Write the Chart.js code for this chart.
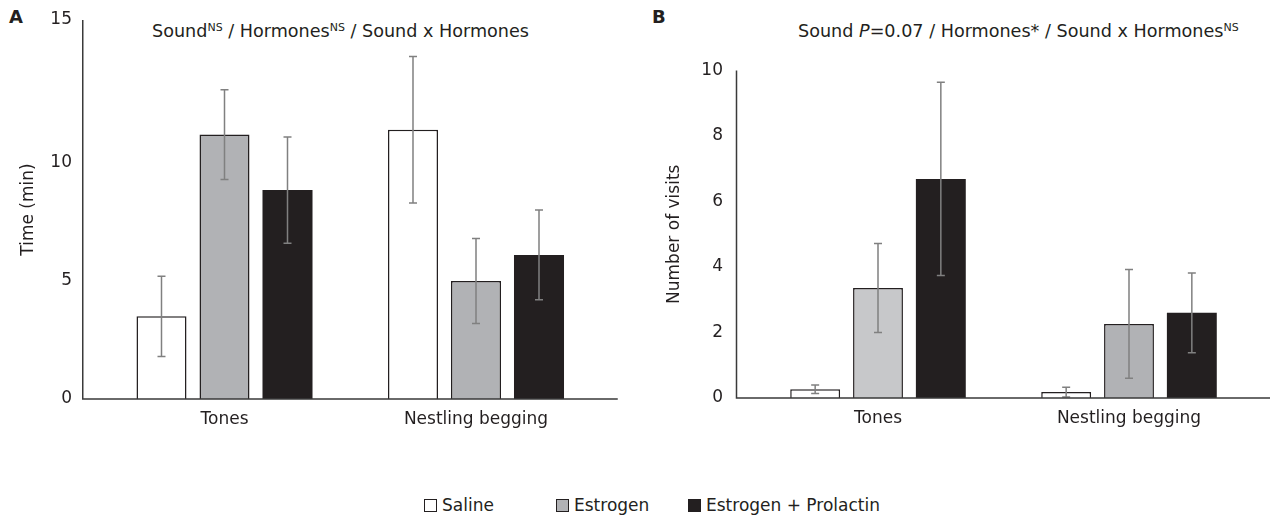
<!DOCTYPE html>
<html>
<head>
<meta charset="utf-8">
<title>Sound x Hormones</title>
<script src="https://cdn.jsdelivr.net/npm/chart.js@4.4.1/dist/chart.umd.min.js"></script>
<style>
  body { margin: 0; background: #fff; font-family: "DejaVu Sans", sans-serif; color: #231f20; }
  #wrap { position: relative; width: 1270px; height: 518px; overflow: hidden; }
  canvas { position: absolute; top: 0; }
  .tag { position: absolute; top: 6px; font-size: 18px; font-weight: bold; }
  .title { position: absolute; top: 21px; font-size: 17.6px; line-height: 20px; white-space: nowrap; }
  .title sup { font-size: 11px; line-height: 0; vertical-align: 6px; }
  .legend { position: absolute; left: 424px; top: 495px; display: flex; font-size: 17px; line-height: 20px; }
  .legend span.item { display: flex; align-items: center; min-width: 132px; }
  .legend i { display: inline-block; width: 11px; height: 11px; border: 1.5px solid #231f20; margin-right: 5px; }
</style>
</head>
<body>
<div id="wrap">
  <div class="tag" style="left:9px">A</div>
  <div class="tag" style="left:652px">B</div>
  <div class="title" style="left:152px">Sound<sup>NS</sup> / Hormones<sup>NS</sup> / Sound x Hormones</div>
  <div class="title" style="left:798px">Sound <i>P</i>=0.07 / Hormones* / Sound x Hormones<sup>NS</sup></div>
  <canvas id="chartA" width="640" height="450" style="left:0"></canvas>
  <canvas id="chartB" width="630" height="450" style="left:640px"></canvas>
  <div class="legend" id="legend"></div>
</div>
<script>
const categories = ['Tones', 'Nestling begging']
const groups = ['Saline', 'Estrogen', 'Estrogen + Prolactin']

// A - time spent (min), mean and error
const timeSaline = [3.5, 11.4]
const timeEstrogen = [11.2, 5.0]
const timeEstProl = [8.85, 6.1]
const timeSalineErr = [1.7, 3.1]
const timeEstrogenErr = [1.9, 1.8]
const timeEstProlErr = [2.25, 1.9]
const timeTicks = ['0', '5', '10', '15']

// B - number of visits
const visitsSaline = [0.27, 0.18]
const visitsEstrogen = [3.36, 2.26]
const visitsEstProl = [6.69, 2.6]
const visitsSalineErr = [0.13, 0.15]
const visitsEstrogenErr = [1.36, 1.66]
const visitsEstProlErr = [2.95, 1.22]
const visitsTicks = [0, 2, 4, 6, 8, 10]

const ink = '#231f20'
const grey = '#b1b2b5'
const lightGrey = '#c7c8ca'
const font = { family: 'DejaVu Sans', size: 17 }

// error bars from the dataset's err array
const errorBars = {
  id: 'errorBars',
  afterDatasetsDraw(chart) {
    const ctx = chart.ctx
    const y = chart.scales.y
    ctx.save()
    ctx.strokeStyle = '#808080'
    ctx.lineWidth = 1.5
    chart.data.datasets.forEach((ds, i) => {
      chart.getDatasetMeta(i).data.forEach((bar, j) => {
        const v = ds.data[j], e = ds.err[j]
        const top = y.getPixelForValue(v + e)
        const bot = y.getPixelForValue(Math.max(v - e, 0))
        ctx.beginPath()
        ctx.moveTo(bar.x, top); ctx.lineTo(bar.x, bot)
        ctx.moveTo(bar.x - 4, top); ctx.lineTo(bar.x + 4, top)
        ctx.moveTo(bar.x - 4, bot); ctx.lineTo(bar.x + 4, bot)
        ctx.stroke()
      })
    })
    ctx.restore()
  }
}

// axis lines sit a little outside the category area, like the original
const axisLines = {
  id: 'axisLines',
  afterDatasetsDraw(chart) {
    const { ctx, chartArea: a } = chart
    const x0 = a.left - 16
    ctx.save()
    ctx.strokeStyle = '#3a3a3a'
    ctx.lineWidth = 1.5
    ctx.beginPath()
    ctx.moveTo(x0, a.top); ctx.lineTo(x0, a.bottom)
    ctx.lineTo(a.right + 16, a.bottom)
    ctx.stroke()
    ctx.restore()
  }
}

function makeDatasets(vals, errs, estColors) {
  return [
    { label: groups[0], data: vals[0], err: errs[0], backgroundColor: '#fff', borderColor: ink, borderWidth: 1.5 },
    { label: groups[1], data: vals[1], err: errs[1], backgroundColor: estColors, borderColor: ink, borderWidth: 1.5 },
    { label: groups[2], data: vals[2], err: errs[2], backgroundColor: ink, borderColor: ink, borderWidth: 0 }
  ]
}

function xScale(height) {
  return {
    grid: { display: false, drawTicks: false },
    border: { display: false },
    ticks: { padding: 10, font, color: ink, maxRotation: 0, autoSkip: false },
    afterFit: s => { s.height = height }
  }
}

// fixed width for the y axis, and no extra top padding from the tick labels
function fitY(width) {
  return s => { s.width = width; s.paddingTop = 0 }
}

new Chart(document.getElementById('chartA'), {
  type: 'bar',
  data: {
    labels: categories,
    datasets: makeDatasets([timeSaline, timeEstrogen, timeEstProl],
      [timeSalineErr, timeEstrogenErr, timeEstProlErr], grey)
  },
  options: {
    responsive: false,
    animation: false,
    categoryPercentage: 0.7515,
    barPercentage: 0.794,
    layout: { padding: { left: 0, right: 38.25, top: 20, bottom: 0 } },
    plugins: { legend: { display: false }, tooltip: { enabled: false } },
    scales: {
      x: xScale(51),
      y: {
        min: 0,
        max: 16.05,
        // the printed axis puts its "15" at the top of the line
        afterBuildTicks: s => { s.ticks = [0, 5, 10, s.max].map(value => ({ value })) },
        ticks: { padding: 26.75, font, color: ink, callback: (v, i) => timeTicks[i] },
        grid: { display: false, drawTicks: false },
        border: { display: false },
        title: { display: true, text: 'Time (min)', font, color: ink, padding: { top: 18.8, bottom: 0 } },
        afterFit: fitY(98.75)
      }
    }
  },
  plugins: [errorBars, axisLines]
})

new Chart(document.getElementById('chartB'), {
  type: 'bar',
  data: {
    labels: categories,
    datasets: makeDatasets([visitsSaline, visitsEstrogen, visitsEstProl],
      [visitsSalineErr, visitsEstrogenErr, visitsEstProlErr], [lightGrey, grey])
  },
  options: {
    responsive: false,
    animation: false,
    categoryPercentage: 0.751,
    barPercentage: 0.794,
    layout: { padding: { left: 0, right: 15.5, top: 70.5, bottom: 0 } },
    plugins: { legend: { display: false }, tooltip: { enabled: false } },
    scales: {
      x: xScale(52),
      y: {
        min: visitsTicks[0],
        max: visitsTicks[visitsTicks.length - 1],
        afterBuildTicks: s => { s.ticks = visitsTicks.map(value => ({ value })) },
        ticks: { padding: 29.5, font, color: ink },
        grid: { display: false, drawTicks: false },
        border: { display: false },
        title: { display: true, text: 'Number of visits', font, color: ink, padding: { top: 24.8, bottom: 0 } },
        afterFit: fitY(112.5)
      }
    }
  },
  plugins: [errorBars, axisLines]
})

// shared legend under both panels
const swatches = ['#fff', grey, ink]
document.getElementById('legend').innerHTML = groups.map((g, i) =>
  `<span class="item"><i style="background:${swatches[i]}"></i>${g}</span>`).join('')
</script>
</body>
</html>
